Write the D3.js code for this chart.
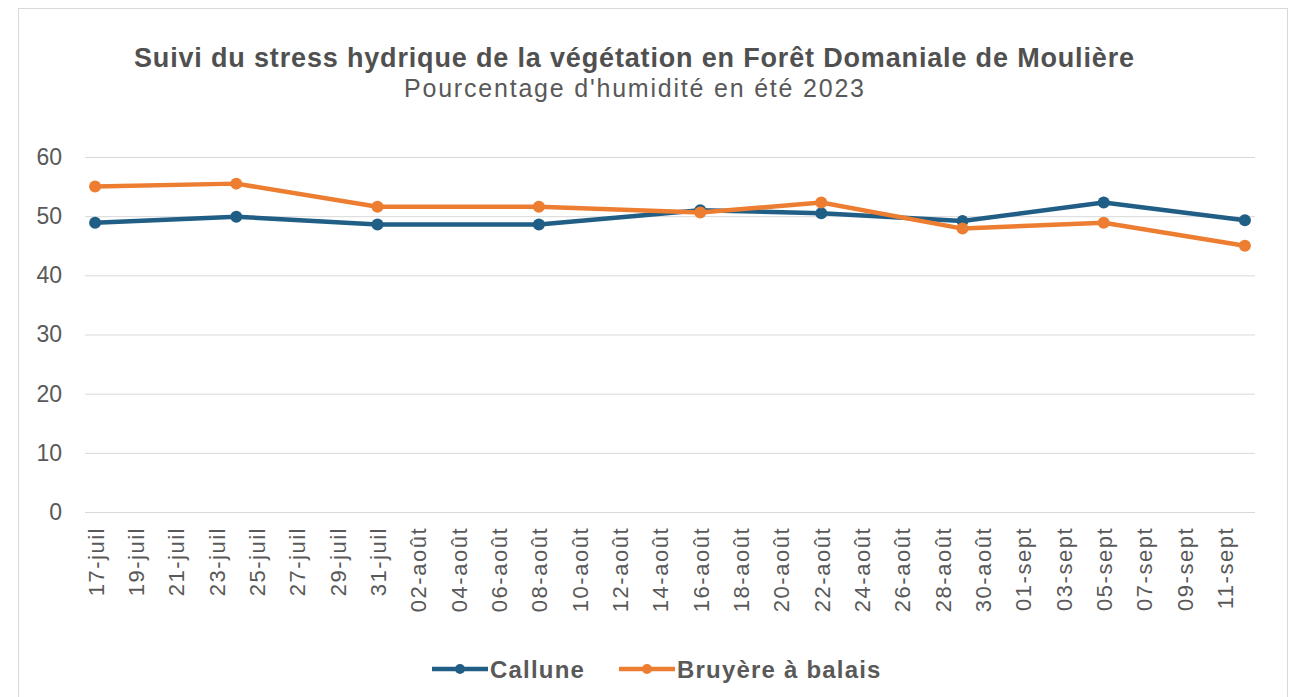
<!DOCTYPE html>
<html>
<head>
<meta charset="utf-8">
<script src="https://cdn.jsdelivr.net/npm/d3@7"></script>
<style>
  html, body { margin: 0; padding: 0; background: #ffffff; }
  svg { display: block; font-family: "Liberation Sans", Arial, sans-serif; }
</style>
</head>
<body>
<svg id="chart" width="1303" height="697"></svg>
<script>
// ---- data ----
const title = "Suivi du stress hydrique de la végétation en Forêt Domaniale de Moulière";
const subtitle = "Pourcentage d'humidité en été 2023";
const dates = ["2023-07-17","2023-07-24","2023-07-31","2023-08-08","2023-08-16","2023-08-22","2023-08-29","2023-09-05","2023-09-12"];
const callune = [48.9, 49.9, 48.6, 48.6, 51.0, 50.5, 49.2, 52.3, 49.3];
const bruyere = [55.0, 55.5, 51.6, 51.6, 50.6, 52.3, 47.9, 48.9, 45.0];
const seriesNames = ["Callune", "Bruyère à balais"];
const seriesColors = ["#215E86", "#ED7D31"];
const yTicks = [0, 10, 20, 30, 40, 50, 60];
const axisStart = "2023-07-17";
const axisEnd = "2023-09-13";
const lastTick = "2023-09-12";
const monthsFr = ["janv","févr","mars","avr","mai","juin","juil","août","sept","oct","nov","déc"];

(function () {
const svg = d3.select("#chart");
const parse = d3.utcParse("%Y-%m-%d");
const locale = d3.timeFormatLocale({
  dateTime: "%A %e %B %Y à %X", date: "%d/%m/%Y", time: "%H:%M:%S",
  periods: ["AM","PM"],
  days: ["dimanche","lundi","mardi","mercredi","jeudi","vendredi","samedi"],
  shortDays: ["dim","lun","mar","mer","jeu","ven","sam"],
  months: ["janvier","février","mars","avril","mai","juin","juillet","août","septembre","octobre","novembre","décembre"],
  shortMonths: monthsFr
});
const fmt = locale.utcFormat("%d-%b");

const mLeft = 85, mRight = 1255, mTop = 157, mBottom = 512;
const x = d3.scaleUtc().domain([parse(axisStart), parse(axisEnd)]).range([mLeft, mRight]);
const y = d3.scaleLinear().domain([0, 60]).range([mBottom, mTop]);
const mid = d => d3.utcHour.offset(d, 12);

// border
svg.append("rect").attr("x", 18.5).attr("y", 8.5).attr("width", 1269).attr("height", 720)
  .attr("fill", "#ffffff").attr("stroke", "#d9d9d9").attr("stroke-width", 1);

// titles
svg.append("text").attr("x", 634).attr("y", 67).attr("text-anchor", "middle")
  .attr("font-size", 27).attr("font-weight", "bold").attr("fill", "#505050")
  .attr("textLength", 1000).attr("lengthAdjust", "spacing").text(title);
svg.append("text").attr("x", 634).attr("y", 97).attr("text-anchor", "middle")
  .attr("font-size", 25).attr("fill", "#595959")
  .attr("textLength", 460).attr("lengthAdjust", "spacing").text(subtitle);

// y grid + labels
const yAxis = svg.append("g").attr("transform", `translate(${mLeft},0)`)
  .call(d3.axisLeft(y).tickValues(yTicks).tickSize(-(mRight - mLeft)).tickPadding(23));
yAxis.select(".domain").remove();
yAxis.selectAll(".tick line").attr("stroke", "#d9d9d9").attr("stroke-width", 1);
yAxis.selectAll(".tick text").attr("font-size", 23).attr("fill", "#595959")
  .attr("font-family", "Liberation Sans, Arial, sans-serif");

// x labels
const tickDates = d3.utcDay.range(parse(axisStart), d3.utcDay.offset(parse(lastTick), 0), 2);
const xAxis = svg.append("g").attr("transform", `translate(0,${mBottom})`)
  .call(d3.axisBottom(x).tickValues(tickDates.map(mid)).tickFormat(fmt).tickSize(0));
xAxis.select(".domain").remove();
xAxis.selectAll(".tick text")
  .attr("font-size", 22).attr("fill", "#595959")
  .attr("font-family", "Liberation Sans, Arial, sans-serif")
  .attr("letter-spacing", 1.5)
  .attr("text-anchor", "end")
  .attr("transform", "rotate(-90)")
  .attr("x", -15).attr("y", 0).attr("dy", "0.36em");

// lines
const data = [callune, bruyere];
const line = d3.line().x(d => x(mid(parse(d.date)))).y(d => y(d.v));
data.forEach((vals, i) => {
  const pts = dates.map((dt, j) => ({date: dt, v: vals[j]}));
  svg.append("path").datum(pts).attr("d", line).attr("fill", "none")
    .attr("stroke", seriesColors[i]).attr("stroke-width", 4.5).attr("stroke-linejoin", "round");
  svg.append("g").selectAll("circle").data(pts).join("circle")
    .attr("cx", d => x(mid(parse(d.date)))).attr("cy", d => y(d.v)).attr("r", 6)
    .attr("fill", seriesColors[i]);
});

// legend
const legendItems = [{x: 432, w: 56}, {x: 619, w: 56}];
seriesNames.forEach((name, i) => {
  const g = svg.append("g").attr("transform", `translate(${legendItems[i].x},669)`);
  g.append("line").attr("x1", 0).attr("x2", legendItems[i].w).attr("y1", 0).attr("y2", 0)
    .attr("stroke", seriesColors[i]).attr("stroke-width", 4.5);
  g.append("circle").attr("cx", legendItems[i].w / 2).attr("cy", 0).attr("r", 5).attr("fill", seriesColors[i]);
  g.append("text").attr("x", legendItems[i].w + 2).attr("y", 0).attr("dy", "0.36em")
    .attr("font-size", 24).attr("font-weight", "bold").attr("fill", "#595959")
    .attr("letter-spacing", 1.2).text(name);
});
})();
</script>
</body>
</html>
